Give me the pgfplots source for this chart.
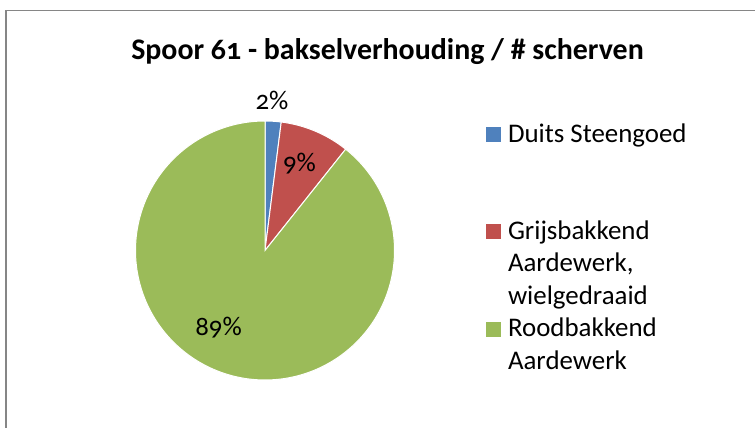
\documentclass[border=0pt]{standalone}
\usepackage{fontspec}
\setmainfont[Numbers=OldStyle]{Carlito}
\usepackage{pgfplots}
\pgfplotsset{compat=1.18}
\definecolor{cBlue}{HTML}{4F81BD}
\definecolor{cRed}{HTML}{C0504D}
\definecolor{cGreen}{HTML}{9BBB59}
\definecolor{cBorder}{HTML}{868686}
% slice shares (percent of # scherven)
\def\pA{2.0}  % Duits Steengoed
\def\pB{8.7}  % Grijsbakkend Aardewerk, wielgedraaid
\def\pC{89.3} % Roodbakkend Aardewerk
\pgfmathsetmacro{\aA}{90}
\pgfmathsetmacro{\aB}{\aA-3.6*\pA}
\pgfmathsetmacro{\aC}{\aB-3.6*\pB}
\pgfmathsetmacro{\aD}{\aC-3.6*\pC}
\def\cx{265}\def\cy{177.5}\def\rr{129.5}
\begin{document}
\begin{tikzpicture}
\useasboundingbox (0,0) rectangle (755bp,428bp);
\begin{axis}[
  at={(0,0)}, anchor=south west,
  scale only axis, width=755bp, height=428bp,
  xmin=0, xmax=755, ymin=0, ymax=428,
  hide axis, clip=false,
  legend image code/.code={\fill[#1,draw=none] (0bp,0bp) rectangle (15bp,15bp);},
  legend cell align=left,
  legend style={at={(axis cs:486,307.7)}, anchor=north west,
    draw=none, fill=none, inner sep=0pt, outer sep=0pt,
    row sep=3.4bp, column sep=7bp,
    font=\fontsize{27}{32}\selectfont,
    cells={anchor=base west},
    nodes={inner sep=0pt, text height=22bp, text depth=7bp}},
]
\addplot[fill=cBlue, draw=white, line width=1bp, domain=\aB:\aA, samples=8, forget plot]
  ({\cx+\rr*cos(x)},{\cy+\rr*sin(x)}) -- (axis cs:\cx,\cy) -- cycle;
\addplot[fill=cRed, draw=white, line width=1bp, domain=\aC:\aB, samples=30, forget plot]
  ({\cx+\rr*cos(x)},{\cy+\rr*sin(x)}) -- (axis cs:\cx,\cy) -- cycle;
\addplot[fill=cGreen, draw=white, line width=1bp, domain=\aD:\aC, samples=200, forget plot]
  ({\cx+\rr*cos(x)},{\cy+\rr*sin(x)}) -- (axis cs:\cx,\cy) -- cycle;

\addlegendimage{fill=cBlue, draw=none}\addlegendentry{Duits Steengoed}
\addlegendimage{empty legend}\addlegendentry{\mbox{}}
\addlegendimage{empty legend}\addlegendentry{\mbox{}}
\addlegendimage{fill=cRed, draw=none}\addlegendentry{Grijsbakkend}
\addlegendimage{empty legend}\addlegendentry{Aardewerk,}
\addlegendimage{empty legend}\addlegendentry{wielgedraaid}
\addlegendimage{fill=cGreen, draw=none}\addlegendentry{Roodbakkend}
\addlegendimage{empty legend}\addlegendentry{Aardewerk}

\node[anchor=base, font=\fontsize{30}{36}\selectfont\bfseries] at (axis cs:387.5,368) {Spoor 61 - bakselverhouding / \# scherven};
\node[anchor=base, font=\fontsize{27}{32}\selectfont] at (axis cs:272,318) {2\%};
\node[anchor=base, font=\fontsize{27}{32}\selectfont] at (axis cs:299.5,256) {9\%};
\node[anchor=base, font=\fontsize{27}{32}\selectfont] at (axis cs:218.5,92) {89\%};
\draw[cBorder, line width=1.3bp] (axis cs:6,-20) -- (axis cs:6,417.3) -- (axis cs:800,417.3);
\end{axis}
\end{tikzpicture}
\end{document}
